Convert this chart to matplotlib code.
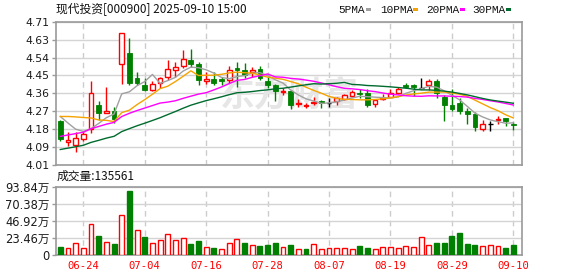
import matplotlib
matplotlib.use('Agg')
import matplotlib.pyplot as plt
from matplotlib.patches import Rectangle
import numpy as np

# ---------------- data ----------------
stock_title = '现代投资[000900] 2025-09-10 15:00'
vol_title = '成交量'

open_ = [4.223, 4.120, 4.108, 4.137, 4.186, 4.303, 4.265, 4.274, 4.505, 4.558,
         4.437, 4.400, 4.375, 4.412, 4.442, 4.476, 4.495, 4.521, 4.504, 4.421,
         4.429, 4.429, 4.425, 4.484, 4.473, 4.462, 4.481, 4.420, 4.400, 4.365,
         4.371, 4.308, 4.297, 4.315, 4.323, 4.315, 4.323, 4.334, 4.347, 4.363,
         4.363, 4.307, 4.334, 4.344, 4.363, 4.400, 4.400, 4.387, 4.403, 4.420,
         4.344, 4.304, 4.312, 4.274, 4.260, 4.186, 4.210, 4.228, 4.239, 4.212]
high = [4.231, 4.171, 4.170, 4.178, 4.420, 4.324, 4.389, 4.292, 4.655, 4.631,
        4.462, 4.433, 4.420, 4.441, 4.521, 4.512, 4.570, 4.579, 4.512, 4.462,
        4.462, 4.441, 4.494, 4.513, 4.510, 4.489, 4.494, 4.441, 4.408, 4.387,
        4.376, 4.331, 4.315, 4.341, 4.328, 4.336, 4.344, 4.357, 4.376, 4.379,
        4.379, 4.333, 4.357, 4.379, 4.392, 4.412, 4.405, 4.437, 4.428, 4.428,
        4.352, 4.381, 4.336, 4.287, 4.271, 4.231, 4.223, 4.250, 4.239, 4.220]
low = [4.126, 4.102, 4.075, 4.128, 4.166, 4.231, 4.263, 4.215, 4.405, 4.400,
       4.400, 4.373, 4.371, 4.384, 4.425, 4.439, 4.484, 4.489, 4.402, 4.404,
       4.400, 4.400, 4.412, 4.392, 4.433, 4.441, 4.425, 4.384, 4.325, 4.352,
       4.284, 4.292, 4.286, 4.304, 4.287, 4.292, 4.304, 4.328, 4.344, 4.336,
       4.292, 4.292, 4.328, 4.341, 4.357, 4.384, 4.347, 4.384, 4.376, 4.336,
       4.223, 4.276, 4.260, 4.212, 4.174, 4.174, 4.174, 4.212, 4.202, 4.183]
close = [4.137, 4.133, 4.144, 4.163, 4.362, 4.263, 4.274, 4.234, 4.655, 4.412,
         4.412, 4.375, 4.408, 4.436, 4.481, 4.491, 4.529, 4.502, 4.423, 4.429,
         4.412, 4.421, 4.473, 4.475, 4.452, 4.473, 4.433, 4.400, 4.373, 4.373,
         4.304, 4.312, 4.304, 4.320, 4.315, 4.315, 4.339, 4.350, 4.368, 4.357,
         4.304, 4.328, 4.339, 4.360, 4.381, 4.392, 4.392, 4.387, 4.420, 4.360,
         4.304, 4.283, 4.276, 4.260, 4.195, 4.210, 4.210, 4.233, 4.223, 4.204]
# closes of the 29 sessions before the first visible one (for the moving averages)
prior_close = [3.93, 3.94, 3.95, 3.94, 3.96, 3.95, 3.97, 3.96, 3.98, 3.99,
               4.00, 4.01, 4.03, 4.02, 4.04, 4.05, 4.06, 4.08, 4.10, 4.14,
               4.133, 4.164, 4.193, 4.385, 4.36, 4.293, 4.294, 4.218, 4.293]
# volume in 万 (10k)
volume = [11.0, 9.2, 16.0, 9.6, 42.6, 26.0, 17.9, 15.0, 54.5, 87.9,
          33.9, 24.7, 16.5, 20.0, 28.4, 20.6, 22.9, 15.0, 19.2, 10.5,
          9.6, 7.8, 16.0, 21.5, 16.5, 13.3, 12.4, 13.7, 16.5, 10.5,
          13.7, 8.2, 8.2, 14.6, 8.2, 9.6, 9.6, 9.2, 7.8, 11.9,
          9.6, 7.8, 10.5, 10.5, 9.2, 11.9, 10.5, 24.3, 13.7, 16.5,
          16.5, 26.1, 30.2, 15.1, 13.7, 11.9, 13.3, 11.9, 9.6, 13.5561]
vol_up = [0, 1, 1, 1, 1, 0, 1, 0, 1, 0,
          1, 0, 1, 1, 1, 1, 1, 0, 0, 1,
          0, 1, 1, 1, 0, 1, 0, 0, 0, 1,
          0, 1, 0, 1, 1, 1, 1, 1, 1, 0,
          0, 1, 1, 1, 1, 1, 1, 1, 1, 0,
          0, 0, 0, 0, 0, 1, 1, 1, 0, 0]
date_ticks = [3, 11, 19, 27, 35, 43, 51, 59]
date_labels = ['06-24', '07-04', '07-16', '07-28', '08-07', '08-19', '08-29', '09-10']
price_min, price_max = 4.01, 4.71
price_labels = ['4.01', '4.09', '4.18', '4.27', '4.36', '4.45', '4.54', '4.63', '4.71']
vol_max = 93.84
vol_ticks = [0, 23.46, 46.92, 70.38, 93.84]
vol_labels = ['0', '23.46万', '46.92万', '70.38万', '93.84万']
ma_periods = [5, 10, 20, 30]
ma_names = ['5PMA', '10PMA', '20PMA', '30PMA']

# ---------------- style ----------------
RED = '#ff0000'
GREEN = '#008000'
MA_COLORS = ['#a0a0a0', '#f5a300', '#ff00ff', '#006b2e']
FRAME = '#9a9a9a'
GRID = '#d4d4d4'
TXT = '#1a1a1a'

W, H = 578, 276
fig = plt.figure(figsize=(W / 100, H / 100), dpi=100)


def rect(l, t, r, b):
    return [l / W, 1 - b / H, (r - l) / W, (b - t) / H]


ax = fig.add_axes(rect(56, 21.7, 522, 165))
axv = fig.add_axes(rect(56, 186.7, 522, 255))

n = len(close)
x = np.arange(n)
o = np.array(open_)
c = np.array(close)
hi = np.array(high)
lo = np.array(low)
up = c > o
dn = c < o
flat = c == o
cols = np.where(up, RED, np.where(dn, GREEN, 'black'))
bw = 0.62

ax.vlines(x, lo, hi, colors=cols, lw=1, zorder=3)
bb = np.minimum(o, c)
bh = np.abs(c - o)
ax.bar(x[up], bh[up], bottom=bb[up], width=bw, facecolor='white',
       edgecolor=RED, lw=1, zorder=4)
ax.bar(x[dn], bh[dn], bottom=bb[dn], width=bw, facecolor=GREEN,
       edgecolor=GREEN, lw=0.6, zorder=4)
ax.hlines(c[flat], x[flat] - bw / 2, x[flat] + bw / 2, colors='black', lw=1, zorder=4)

allc = np.array(prior_close + close)
for p, col in zip(ma_periods, MA_COLORS):
    m = np.convolve(allc, np.ones(p) / p, mode='valid')[-n:]
    ax.plot(x, m, color=col, lw=1, zorder=5)

# watermark
ax.text(0.5, 0.49, '东方财富', transform=ax.transAxes, ha='center', va='center',
        fontsize=25, fontweight='bold', color='#e6e6e6',
        family=['Noto Sans CJK SC'], zorder=1)

xlim = (-0.56, n - 1 + 1.13)
for a in (ax, axv):
    a.set_xlim(*xlim)
    for s in a.spines.values():
        s.set_color(FRAME)
        s.set_linewidth(1.2)
    a.set_xticks(date_ticks)
    a.xaxis.grid(True, color='#cccccc', lw=1, ls=(0, (4, 3)))
    a.yaxis.grid(True, color=GRID, lw=1)
    a.set_axisbelow(True)
    a.tick_params(axis='y', length=3, width=1, color=FRAME, pad=1.5)

ax.set_ylim(price_min, price_max)
ax.set_yticks(np.linspace(price_min, price_max, len(price_labels)))
ax.set_yticklabels(price_labels, fontsize=7.8, color=TXT, family='DejaVu Sans')
ax.tick_params(axis='x', length=0, labelbottom=False)

vcols = [RED if u else GREEN for u in vol_up]
vfaces = ['white' if u else GREEN for u in vol_up]
axv.bar(x, volume, width=0.64, facecolor=vfaces, edgecolor=vcols, lw=1, zorder=3)
axv.set_ylim(0, vol_max)
axv.set_yticks(vol_ticks)
axv.set_yticklabels(vol_labels, fontsize=8.3, color=TXT,
                    family=['DejaVu Sans', 'Noto Sans CJK SC'])
axv.set_xticklabels(date_labels, fontsize=7.6, color=RED, family='DejaVu Sans Mono')
axv.tick_params(axis='x', length=0, pad=4)

# titles
fig.text(56 / W, 1 - 9.5 / H, stock_title, family=['Noto Sans CJK SC'],
         fontsize=8.5, color='#111111', va='center', ha='left')
fig.text(57 / W, 1 - 176.7 / H, f'{vol_title}:{int(round(volume[-1] * 10000))}',
         family=['Noto Sans CJK SC'], fontsize=8.5, color='#111111',
         va='center', ha='left')

# legend
leg_x = [338, 380, 426, 472]
sq_x = [366, 413, 460, 506]
for name, col, tx, sx in zip(ma_names, MA_COLORS, leg_x, sq_x):
    fig.text(tx / W, 1 - 9.6 / H, name, family='Liberation Mono', fontsize=8,
             color='#111111', va='center', ha='left')
    fig.patches.append(Rectangle((sx / W, 1 - 11.2 / H), 5 / W, 3.2 / H,
                                 transform=fig.transFigure, facecolor=col,
                                 edgecolor='none'))

fig.savefig('out.png', dpi=100)
